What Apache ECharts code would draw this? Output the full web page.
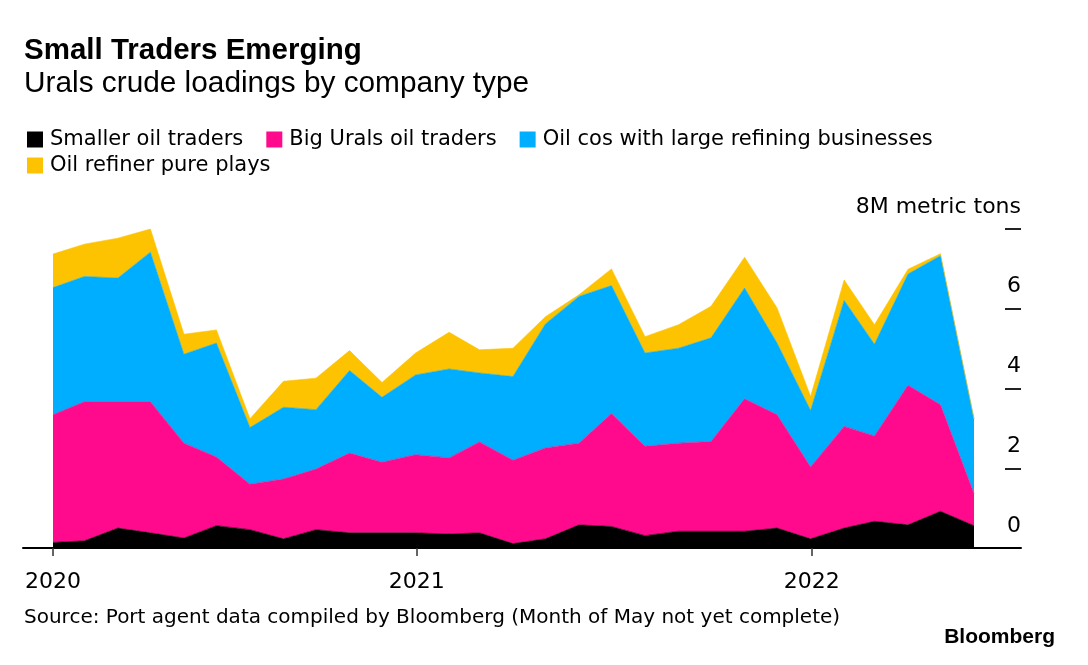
<!DOCTYPE html>
<html>
<head>
<meta charset="utf-8">
<script src="https://cdn.jsdelivr.net/npm/echarts@6/dist/echarts.min.js"></script>
<style>
html,body{margin:0;padding:0;background:#fff;}
#chart{width:1088px;height:665px;}
</style>
</head>
<body>
<div id="chart"></div>
<script>
// ---- Data (month-end loadings, million metric tons) ----
const months = ['2020-01-31','2020-02-29','2020-03-31','2020-04-30','2020-05-31','2020-06-30',
  '2020-07-31','2020-08-31','2020-09-30','2020-10-31','2020-11-30','2020-12-31',
  '2021-01-31','2021-02-28','2021-03-31','2021-04-30','2021-05-31','2021-06-30',
  '2021-07-31','2021-08-31','2021-09-30','2021-10-31','2021-11-30','2021-12-31',
  '2022-01-31','2022-02-28','2022-03-31','2022-04-30','2022-05-31'];
const smallerTraders = [0.14,0.18,0.50,0.38,0.25,0.56,0.46,0.23,0.46,0.38,0.38,0.38,0.35,0.38,0.11,0.23,0.58,0.54,0.31,0.42,0.42,0.42,0.50,0.23,0.50,0.67,0.58,0.92,0.56];
const bigUralsTraders = [3.20,3.49,3.17,3.29,2.38,1.72,1.14,1.50,1.52,2.00,1.77,1.96,1.91,2.28,2.09,2.28,2.05,2.83,2.24,2.21,2.25,3.32,2.84,1.80,2.55,2.14,3.50,2.67,0.80];
const oilCosRefining = [3.19,3.14,3.10,3.75,2.23,2.86,1.42,1.80,1.49,2.07,1.63,2.00,2.23,1.73,2.10,3.11,3.68,3.21,2.34,2.38,2.60,2.78,1.80,1.42,3.16,2.30,2.79,3.74,1.87];
const refinerPurePlays = [0.84,0.81,1.00,0.58,0.50,0.33,0.22,0.65,0.79,0.50,0.37,0.55,0.92,0.58,0.71,0.18,0.04,0.42,0.41,0.59,0.79,0.77,0.88,0.35,0.51,0.49,0.12,0.05,0.00];
const seriesNames = ['Smaller oil traders','Big Urals oil traders','Oil cos with large refining businesses','Oil refiner pure plays'];
const xTickDates = ['2020-01-31','2021-01-01','2022-01-01'];
const xTickLabels = ['2020','2021','2022'];
const yTickLabels = ['0','2','4','6','8M metric tons'];
const titleText = 'Small Traders Emerging';
const subtitleText = 'Urals crude loadings by company type';
const sourceText = 'Source: Port agent data compiled by Bloomberg (Month of May not yet complete)';

// ---- Helpers ----
function toTime(s){ const p = s.split('-').map(Number); return Date.UTC(p[0], p[1]-1, p[2]); }
const DAY = 86400000;
const times = months.map(toTime);
const tickTimes = xTickDates.map(toTime);
const xMin = times[0] - 27.7 * DAY;
const xMax = times[times.length - 1] + 43.4 * DAY;
const colors = ['#000000','#ff0a8c','#00aeff','#fdc300'];
const values = [smallerTraders, bigUralsTraders, oilCosRefining, refinerPurePlays];

const series = values.map((arr, i) => ({
  name: seriesNames[i],
  type: 'line',
  stack: 'total',
  xAxisIndex: 1,
  symbol: 'none',
  showSymbol: false,
  smooth: false,
  lineStyle: {width: 0.6, color: colors[i]},
  itemStyle: {color: colors[i]},
  areaStyle: {color: colors[i], opacity: 1},
  emphasis: {disabled: true},
  silent: true,
  data: arr.map((v, k) => [times[k], v])
}));

const chart = echarts.init(document.getElementById('chart'), null, {renderer: 'canvas', useUTC: true});
const sansSmall = '"DejaVu Sans", sans-serif';
const sansTitle = '"Liberation Sans", Arial, sans-serif';

chart.setOption({
  animation: false,
  useUTC: true,
  backgroundColor: '#ffffff',
  title: [
    {text: titleText, left: 24, top: 36, padding: 0,
      textStyle: {fontFamily: sansTitle, fontWeight: 'bold', fontSize: 29.5, color: '#000'}},
    {text: subtitleText, left: 24, top: 69, padding: 0,
      textStyle: {fontFamily: sansTitle, fontWeight: 'normal', fontSize: 29.8, color: '#000'}},
    {text: sourceText, left: 24, top: 608, padding: 0,
      textStyle: {fontFamily: sansSmall, fontWeight: 'normal', fontSize: 20, color: '#000'}},
    {text: 'Bloomberg', right: 33, top: 627, padding: 0,
      textStyle: {fontFamily: sansTitle, fontWeight: 'bold', fontSize: 21, color: '#000'}}
  ],
  legend: [
    {data: seriesNames.slice(0, 3), left: 27, top: 129, padding: 0, itemGap: 23,
      icon: 'rect', itemWidth: 16, itemHeight: 16, selectedMode: false,
      textStyle: {fontFamily: sansSmall, fontSize: 21, color: '#000', padding: [0,0,0,2]}},
    {data: seriesNames.slice(3), left: 27, top: 155, padding: 0, itemGap: 23,
      icon: 'rect', itemWidth: 16, itemHeight: 16, selectedMode: false,
      textStyle: {fontFamily: sansSmall, fontSize: 21, color: '#000', padding: [0,0,0,2]}}
  ],
  grid: {left: 23, right: 67, top: 229, bottom: 117, containLabel: false},
  xAxis: [
    {
      type: 'value',
      min: xMin, max: xMax,
      position: 'bottom',
      z: 5,
      axisLine: {show: true, lineStyle: {color: '#000', width: 2}},
      axisTick: {show: true, customValues: tickTimes, length: 8, lineStyle: {color: '#333', width: 1.5}},
      axisLabel: {show: true, customValues: tickTimes, margin: 23,
        fontFamily: sansSmall, fontSize: 22, color: '#000',
        formatter: function (v) { const i = tickTimes.indexOf(v); return i >= 0 ? xTickLabels[i] : ''; }},
      splitLine: {show: false}
    },
    {
      type: 'time',
      show: false,
      position: 'top',
      min: xMin, max: xMax,
      splitLine: {show: false}
    }
  ],
  yAxis: {
    type: 'value',
    position: 'right',
    min: 0, max: 8, interval: 2,
    axisLine: {show: false},
    axisTick: {show: true, inside: true, length: 16, lineStyle: {color: '#222', width: 2}},
    axisLabel: {show: true, inside: true, margin: 0, align: 'right', verticalAlign: 'bottom',
      padding: [0, 0, 11, 0],
      fontFamily: sansSmall, fontSize: 22, color: '#000',
      formatter: function (v) { return yTickLabels[Math.round(v / 2)]; }},
    splitLine: {show: false}
  },
  series: series
});
</script>
</body>
</html>
